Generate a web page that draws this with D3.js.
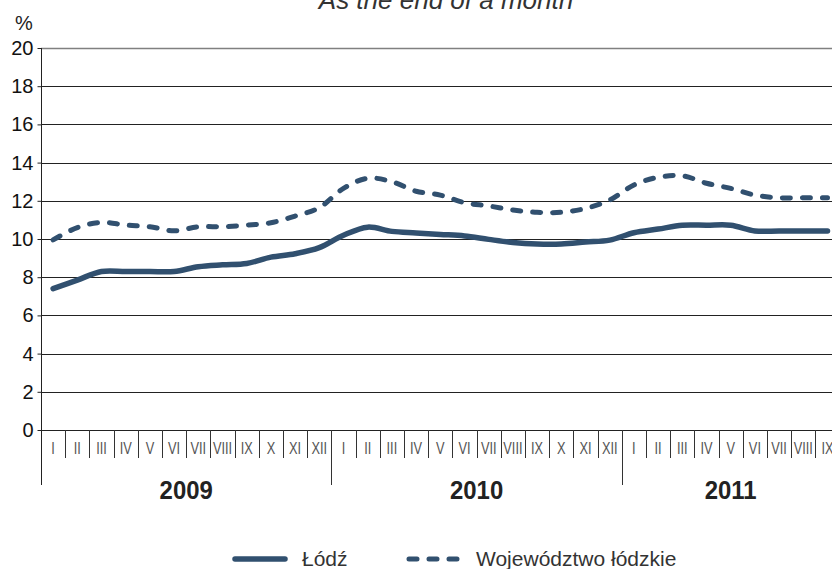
<!DOCTYPE html>
<html>
<head>
<meta charset="utf-8">
<script src="https://cdn.jsdelivr.net/npm/d3@7"></script>
<style>
  body { margin: 0; background: #fff; }
  svg { display: block; font-family: "Liberation Sans", Arial, sans-serif; }
</style>
</head>
<body>
<div id="chart"></div>
<script>
// data
var years = ["2009", "2010", "2011"]
var monthsPerYear = [12, 12, 9]
var romans = ["I", "II", "III", "IV", "V", "VI", "VII", "VIII", "IX", "X", "XI", "XII"]
var lodz = [7.4, 7.85, 8.3, 8.3, 8.3, 8.3, 8.55, 8.65, 8.72, 9.05, 9.23, 9.55,
            10.2, 10.62, 10.4, 10.32, 10.24, 10.16, 9.98, 9.82, 9.74, 9.74, 9.84, 9.94,
            10.33, 10.52, 10.72, 10.72, 10.72, 10.42, 10.42, 10.42, 10.42]
var region = [9.95, 10.6, 10.87, 10.73, 10.64, 10.43, 10.64, 10.64, 10.73, 10.85, 11.2, 11.64,
              12.65, 13.18, 13.0, 12.5, 12.3, 11.9, 11.73, 11.52, 11.4, 11.4, 11.6, 12.04,
              12.83, 13.23, 13.31, 12.92, 12.65, 12.3, 12.16, 12.16, 12.16]
var yTicks = [0, 2, 4, 6, 8, 10, 12, 14, 16, 18, 20]

var width = 832, height = 569
var margin = {top: 48, left: 41, bottom: 139}
var plotW = 798.6
var color = '#31506f'

var keys = []
years.forEach(function(y, i) {
  for (var m = 0; m < monthsPerYear[i]; m++) keys.push(y + '-' + m)
})

var svg = d3.select("#chart")
  .append("svg")
  .attr("width", width)
  .attr("height", height)

var xScale = d3.scaleBand()
  .domain(keys)
  .range([margin.left, margin.left + plotW])

var yScale = d3.scaleLinear()
  .domain([0, 20])
  .range([height - margin.bottom, margin.top])

// title (cut off at the top like the original)
svg.append("text")
  .attr("x", 446)
  .attr("y", 8.5)
  .attr("text-anchor", "middle")
  .style("font-style", "italic")
  .style("font-size", "26px")
  .style("fill", "#333")
  .text("As the end of a month")

svg.append("text")
  .attr("x", 24)
  .attr("y", 30)
  .attr("text-anchor", "middle")
  .style("font-size", "20px")
  .style("fill", "#222")
  .text("%")

// grid
svg.append("g")
  .selectAll("line")
  .data(yTicks)
  .enter()
  .append("line")
  .attr("x1", margin.left)
  .attr("x2", margin.left + plotW)
  .attr("y1", d => Math.round(yScale(d)) + 0.5)
  .attr("y2", d => Math.round(yScale(d)) + 0.5)
  .style("stroke", d => d == 20 ? '#808080' : '#222')
  .style("stroke-width", d => d == 20 ? 1.5 : 1)

// Y axis
var yAxis = d3.axisLeft(yScale)
  .tickValues(yTicks)
  .tickSize(4)
  .tickPadding(4)

var yg = svg.append("g")
  .attr("transform", `translate(${margin.left + 0.5},0)`)
  .call(yAxis)
yg.select(".domain").remove()
yg.selectAll("line").style("stroke", "#222")
yg.selectAll("text")
  .style("font-size", "20px")
  .style("fill", "#111")
  .style("font-family", '"Liberation Sans", Arial, sans-serif')

svg.append("line")
  .attr("x1", margin.left + 0.5).attr("x2", margin.left + 0.5)
  .attr("y1", margin.top).attr("y2", 485)
  .style("stroke", "#222")

// X axis: months
var x0 = yScale(0)
var xg = svg.append("g")
xg.selectAll("line.sep")
  .data(keys.slice(1))
  .enter()
  .append("line")
  .attr("class", "sep")
  .attr("x1", d => Math.round(xScale(d)) + 0.5)
  .attr("x2", d => Math.round(xScale(d)) + 0.5)
  .attr("y1", x0)
  .attr("y2", d => d.split('-')[1] == '0' ? 485 : 458)
  .style("stroke", "#333")

// condensed month labels
xg.selectAll("text")
  .data(keys)
  .enter()
  .append("text")
  .attr("transform", d => `translate(${xScale(d) + xScale.bandwidth() / 2},454) scale(0.8,1)`)
  .attr("text-anchor", "middle")
  .style("font-size", "16px")
  .style("fill", "#555")
  .text(d => romans[+d.split('-')[1]])

// year labels
svg.append("g")
  .selectAll("text")
  .data(years)
  .enter()
  .append("text")
  .attr("transform", (d, i) => {
    var a = xScale(d + '-0')
    var b = xScale(d + '-' + (monthsPerYear[i] - 1)) + xScale.bandwidth()
    return `translate(${(a + b) / 2},499) scale(0.92,1)`
  })
  .attr("text-anchor", "middle")
  .style("font-weight", "bold")
  .style("font-size", "26px")
  .style("fill", "#222")
  .text(d => d)

// lines
var line = d3.line()
  .x((d, i) => xScale(keys[i]) + xScale.bandwidth() / 2)
  .y(d => yScale(d))
  .curve(d3.curveCatmullRom.alpha(0.5))

svg.append("path")
  .datum(region)
  .attr("d", line)
  .style("fill", "none")
  .style("stroke", color)
  .style("stroke-width", 5)
  .style("stroke-linecap", "round")
  .style("stroke-dasharray", "8,12")

svg.append("path")
  .datum(lodz)
  .attr("d", line)
  .style("fill", "none")
  .style("stroke", color)
  .style("stroke-width", 5.5)
  .style("stroke-linejoin", "round")
  .style("stroke-linecap", "round")

// legend
var legend = svg.append("g")
legend.append("line")
  .attr("x1", 235).attr("x2", 285).attr("y1", 559).attr("y2", 559)
  .style("stroke", color).style("stroke-width", 5.5).style("stroke-linecap", "round")
legend.append("text")
  .attr("x", 302).attr("y", 566)
  .style("font-size", "21px").style("fill", "#333")
  .text("Łódź")
legend.append("line")
  .attr("x1", 409).attr("x2", 463).attr("y1", 559).attr("y2", 559)
  .style("stroke", color).style("stroke-width", 5).style("stroke-linecap", "round")
  .style("stroke-dasharray", "8,12")
legend.append("text")
  .attr("x", 476).attr("y", 566)
  .style("font-size", "21px").style("fill", "#333")
  .text("Województwo łódzkie")
</script>
</body>
</html>
